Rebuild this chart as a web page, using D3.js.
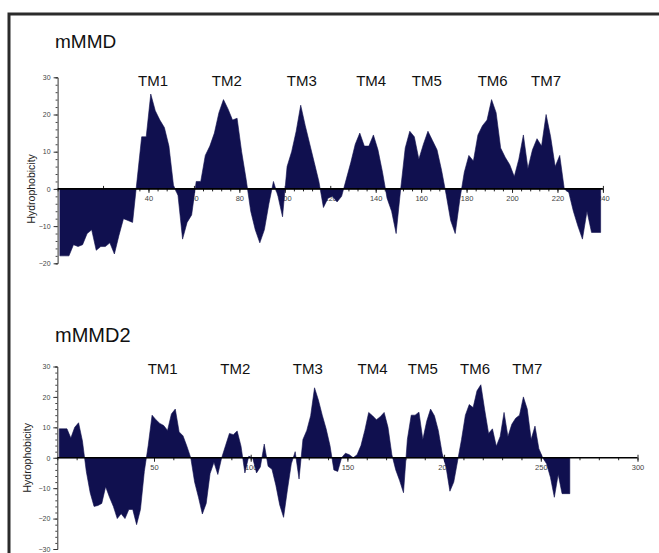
<!DOCTYPE html>
<html>
<head>
<meta charset="utf-8">
<script src="https://cdn.jsdelivr.net/npm/d3@7"></script>
<style>
  body { margin: 0; background: #fff; }
  svg { display: block; font-family: Arial, "Liberation Sans", sans-serif; }
</style>
</head>
<body>
<svg id="chart"></svg>
<script>
// hydrophobicity, one value every 2nd residue (1, 3, 5, ...)
var mmdValues = [
  -18, -18, -18, -15, -15.5, -15, -12, -11, -16.5, -15.5,
  -15.5, -14.5, -17.5, -12.5, -8, -8.5, -9, 2.5, 14, 14,
  25.5, 21, 18.5, 16.5, 11.5, 1, -1.8, -13.5, -9, -7,
  2, 2, 9, 11.5, 15, 20.5, 24, 21.5, 18.5, 19,
  10, 2.5, -6, -11, -14.5, -11, -4, 2, -2, -7.5,
  6, 10, 15.5, 22.5, 17, 12, 7, 2, -5, -2.5,
  -2, -3.5, -2, 2.5, 7, 12, 15, 11.5, 11.5, 14.5,
  10.5, 4.5, -2.5, -6, -12, 0, 11, 15.5, 14, 8,
  12, 15.5, 13, 10.5, 5, -1.5, -8.5, -12, -3, 4.5,
  9, 7.5, 14.5, 17, 18.5, 24, 20.5, 11, 8.5, 6.5,
  3.3, 8, 14.5, 5.5, 10.5, 13.5, 11.5, 20, 14, 6,
  9, 0, -1, -6, -10, -13.5, -6, -11.7, -11.7, -11.7
];

var mmd2Values = [
  9.5, 9.5, 9.5, 6.5, 10, 11.5, 5.5, -4.5, -11.5, -16,
  -15.7, -15, -9.5, -13, -16, -20, -18.4, -20, -17, -17,
  -22, -17, -4.5, 4, 14, 12.5, 11.3, 10.6, 9, 14.4,
  16, 8.5, 7.2, 3.8, 0, -8, -13, -18.5, -15, -5.2,
  -1.5, -5.5, 0, 4, 8, 7.6, 8.8, 3.8, -5, 0.5,
  0, -5, -3, 4.5, -2.8, -3.8, -9, -15.5, -19.6, -10.5,
  -2, 2, -7, 6, 9, 13.8, 23, 19, 14, 9.5,
  4, -4, -4.5, 0, 1.5, 1, 0, 1, 4, 9,
  14.9, 13.8, 12.5, 13.5, 14.9, 10, 1, -4, -7.5, -11.5,
  6, 14, 14, 15, 6, 12, 16, 13.8, 9, 1.5,
  -3, -11, -8, -1, 6, 14, 17.5, 16.5, 22, 24,
  15.7, 8, 9.5, 3.8, 7, 14.9, 7, 11, 13, 14,
  20, 16, 6, 10.4, 3, 0, -2, -6.5, -13, -5.5,
  -11.8, -11.8, -11.8
];

// transmembrane segment labels and the residue they sit over
var tmNames = ["TM1", "TM2", "TM3", "TM4", "TM5", "TM6", "TM7"];
var mmdTmAt = [42, 74.5, 107.5, 138, 162.5, 191.5, 215];
var mmd2TmAt = [54.5, 92, 129.5, 163, 189, 216, 243];

// tick labels
var mmdXTicks = [20, 40, 60, 80, 100, 120, 140, 160, 180, 200, 220, 240];
var mmd2XTicks = [50, 100, 150, 200, 250, 300];
var mmdYTicks = [-20, -10, 0, 10, 20, 30];
var mmd2YTicks = [-30, -20, -10, 0, 10, 20, 30];

var width = 659, height = 553;
var navy = "#10104f";

var svg = d3.select("#chart")
  .attr("width", width)
  .attr("height", height);

svg.append("rect")
  .attr("width", width).attr("height", height)
  .attr("fill", "#fff");

// frame (open at right and bottom like the cropped figure)
svg.append("rect")
  .attr("x", 9).attr("y", 14)
  .attr("width", 700).attr("height", 600)
  .attr("fill", "none")
  .attr("stroke", "#2b2b2b")
  .attr("stroke-width", 3);

function drawPanel(p) {
  var x = d3.scaleLinear().domain([0, p.xMax]).range(p.xRange);
  var y = d3.scaleLinear().domain(p.yDomain).range(p.yRange);
  var g = svg.append("g");

  var data = p.values.map(function(v, i) {
    return {res: 1 + 2 * i, value: v};
  });

  // title
  g.append("text")
    .attr("x", 55).attr("y", p.titleY)
    .attr("font-size", p.titleSize)
    .attr("fill", "#111")
    .text(p.title);

  // TM labels
  g.selectAll(".tm")
    .data(p.tmAt)
    .enter().append("text")
    .attr("class", "tm")
    .attr("x", function(d) { return x(d); })
    .attr("y", p.tmY)
    .attr("text-anchor", "middle")
    .attr("font-size", 15)
    .attr("fill", "#111")
    .text(function(d, i) { return tmNames[i]; });

  // y axis: minor ticks then labelled ticks
  var yMinor = d3.range(p.yDomain[0], p.yDomain[1] + 0.1, 2);
  g.append("g")
    .attr("transform", "translate(" + x(0) + ",0)")
    .call(d3.axisLeft(y).tickValues(yMinor).tickSize(2).tickFormat(""))
    .call(function(a) {
      a.select(".domain").attr("stroke", "#333");
      a.selectAll(".tick line").attr("stroke", "#444");
    });
  g.append("g")
    .attr("transform", "translate(" + x(0) + ",0)")
    .call(d3.axisLeft(y).tickValues(p.yTicks).tickSize(4).tickPadding(3).tickSizeOuter(0))
    .call(function(a) {
      a.select(".domain").remove();
      a.selectAll(".tick line").attr("stroke", "#333");
      a.selectAll(".tick text").attr("font-size", 7).attr("fill", "#444")
        .attr("font-family", "Arial, 'Liberation Sans', sans-serif");
    });

  // y axis title
  g.append("text")
    .attr("transform", "translate(" + p.yLabelX + "," + y(0) + ") rotate(-90)")
    .attr("text-anchor", "middle")
    .attr("font-size", 10.5)
    .attr("fill", "#222")
    .text("Hydrophobicity");

  // x axis along zero, under the fill
  var xMinor = d3.range(0, p.xMax + 0.1, p.xMinorStep);
  g.append("g")
    .attr("transform", "translate(0," + y(0) + ")")
    .call(d3.axisBottom(x).tickValues(xMinor).tickSize(2.5).tickFormat(""))
    .call(function(a) {
      a.select(".domain").remove();
      a.selectAll(".tick line").attr("stroke", "#222");
    });
  g.append("g")
    .attr("transform", "translate(0," + y(0) + ")")
    .call(d3.axisBottom(x).tickValues(p.xTicks).tickSize(4).tickPadding(3))
    .call(function(a) {
      a.select(".domain").remove();
      a.selectAll(".tick line").attr("stroke", "#222").attr("y1", -3);
      a.selectAll(".tick text").attr("font-size", 7.5).attr("fill", "#444")
        .attr("font-family", "Arial, 'Liberation Sans', sans-serif");
    });

  // hydrophobicity profile
  var area = d3.area()
    .x(function(d) { return x(d.res); })
    .y0(y(0))
    .y1(function(d) { return y(d.value); });

  g.append("path")
    .datum(data)
    .attr("d", area)
    .attr("fill", navy)
    .attr("stroke", navy)
    .attr("stroke-width", 0.6)
    .attr("stroke-linejoin", "round");

  // zero line on top
  g.append("line")
    .attr("x1", x(0)).attr("x2", x(p.xMax))
    .attr("y1", y(0)).attr("y2", y(0))
    .attr("stroke", "#000")
    .attr("stroke-width", 1.6);
}

drawPanel({
  title: "mMMD", titleY: 48, titleSize: 19,
  values: mmdValues, tmAt: mmdTmAt, tmY: 85.5,
  xMax: 240, xRange: [57.6, 602.9], xTicks: mmdXTicks, xMinorStep: 4,
  yDomain: [-20, 30], yRange: [263.3, 77.3], yTicks: mmdYTicks,
  yLabelX: 35
});

drawPanel({
  title: "mMMD2", titleY: 342, titleSize: 20,
  values: mmd2Values, tmAt: mmd2TmAt, tmY: 373.5,
  xMax: 300, xRange: [57.3, 637.5], xTicks: mmd2XTicks, xMinorStep: 10,
  yDomain: [-30, 30], yRange: [549, 366.5], yTicks: mmd2YTicks,
  yLabelX: 31
});
</script>
</body>
</html>
